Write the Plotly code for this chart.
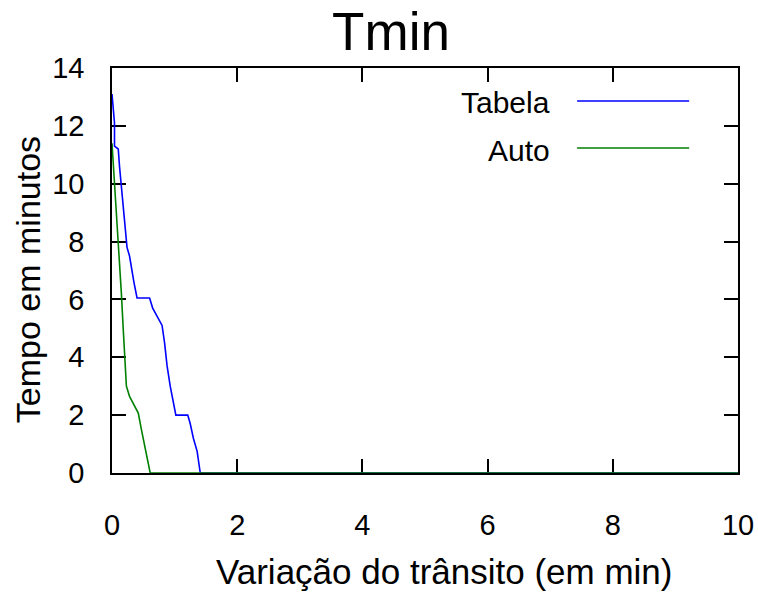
import plotly.graph_objects as go

# Data
tabela_x = [0, 0.04, 0.04, 0.10, 0.12, 0.15, 0.18, 0.21, 0.24, 0.28, 0.32, 0.35, 0.40,
            0.60, 0.65, 0.73, 0.80, 0.84, 0.88, 0.93, 0.97, 1.02, 1.21, 1.25, 1.30, 1.36, 1.41, 10]
tabela_y = [13.1, 12.1, 11.3, 11.2, 10.6, 9.9, 9.1, 8.4, 7.8, 7.5, 6.9, 6.6, 6.05,
            6.05, 5.7, 5.4, 5.1, 4.5, 3.7, 3.0, 2.6, 2.0, 2.0, 1.7, 1.2, 0.75, 0, 0]

auto_x = [0, 0.04, 0.08, 0.12, 0.15, 0.18, 0.21, 0.23, 0.28, 0.36, 0.42, 0.47, 0.52, 0.56, 0.61, 10]
auto_y = [11.4, 10.1, 8.75, 7.5, 6.2, 4.95, 3.9, 3.0, 2.65, 2.3, 2.07, 1.5, 0.92, 0.46, 0, 0]

series_names = ["Tabela", "Auto"]
series_colors = ["#0000ff", "#008000"]

x_ticks = [0, 2, 4, 6, 8, 10]
y_ticks = [0, 2, 4, 6, 8, 10, 12, 14]

FONT = "Liberation Sans, Arial, sans-serif"

fig = go.Figure()
fig.add_trace(go.Scatter(x=tabela_x, y=tabela_y, mode="lines", name=series_names[0],
                         line=dict(color=series_colors[0], width=1.6), showlegend=False))
fig.add_trace(go.Scatter(x=auto_x, y=auto_y, mode="lines", name=series_names[1],
                         line=dict(color=series_colors[1], width=1.6), showlegend=False))

axis_common = dict(
    showgrid=False, zeroline=False, showline=True, linecolor="black", linewidth=1.5,
    mirror="allticks", ticks="inside", ticklen=14, tickwidth=1.5, tickcolor="black",
    tickfont=dict(family=FONT, size=29, color="black"), layer="below traces",
    automargin=False,
)

fig.update_xaxes(range=[0, 10], tickvals=x_ticks, ticklabelstandoff=25, **axis_common)
fig.update_yaxes(range=[0, 14], tickvals=y_ticks, ticklabelstandoff=20, **axis_common)

annotations = [
    dict(text="Variação do trânsito (em min)", xref="paper", yref="paper", x=0.5296, y=-0.244,
         xanchor="center", yanchor="middle", showarrow=False,
         font=dict(family=FONT, size=35, color="black")),
    dict(text="Tempo em minutos", xref="paper", yref="paper", x=-0.134, y=0.4765,
         xanchor="center", yanchor="middle", textangle=-90, showarrow=False,
         font=dict(family=FONT, size=34, color="black")),
]
legend_text_y = [0.9136, 0.7975]
legend_line_y = [0.9185, 0.8025]
shapes = []
for name, color, ty, ly in zip(series_names, series_colors, legend_text_y, legend_line_y):
    annotations.append(dict(text=name, xref="paper", yref="paper", x=0.703, y=ty,
                            xanchor="right", yanchor="middle", showarrow=False,
                            font=dict(family=FONT, size=30, color="black")))
    shapes.append(dict(type="line", xref="paper", yref="paper", x0=0.743, x1=0.922,
                       y0=ly, y1=ly, line=dict(color=color, width=1.6)))

W, H = 758, 592
fig.update_layout(
    width=W, height=H,
    margin=dict(l=112, r=20, t=68, b=119, autoexpand=False),
    paper_bgcolor="white", plot_bgcolor="white",
    title=dict(text="Tmin", x=391 / W, xanchor="center", xref="container",
               y=1 - 31 / H, yanchor="middle", yref="container",
               font=dict(family=FONT, size=53, color="black")),
    annotations=annotations, shapes=shapes,
)

# Remove the default page margin so the figure fills the window exactly
fig.write_html(
    "out.html",
    config={"displayModeBar": False},
    post_script="document.body.style.margin='0';document.body.style.overflow='hidden';"
                "document.documentElement.style.overflow='hidden';",
)
